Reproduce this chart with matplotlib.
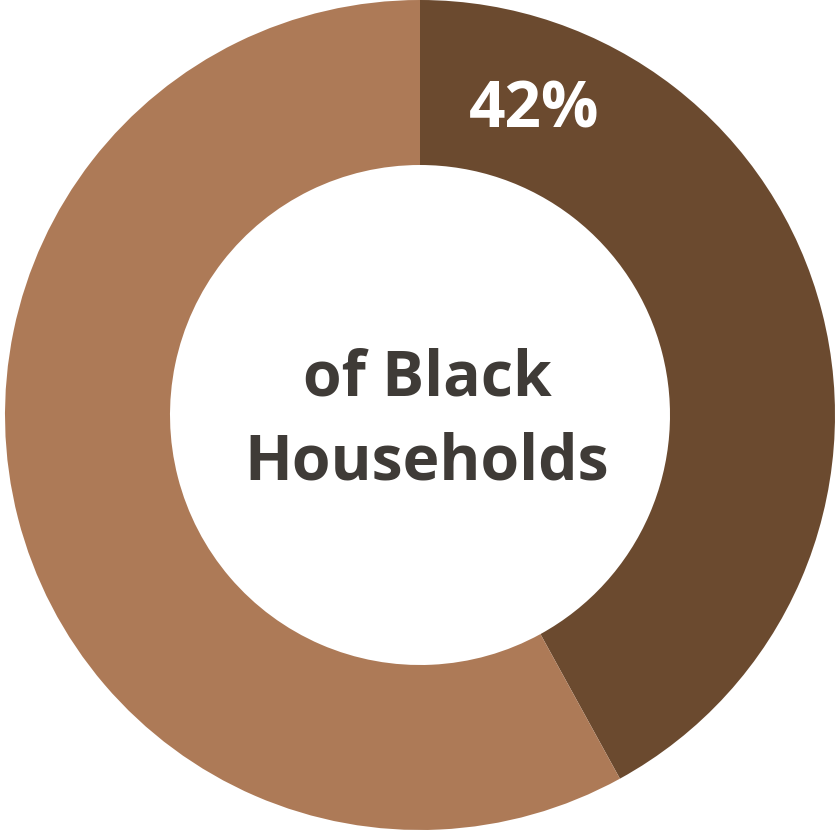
import matplotlib.pyplot as plt

# share of households
labels = ['Black Households', 'Other']
shares = [42, 58]
colors = ['#6B4A2F', '#AD7A57']
pct_text = '42%'
center_text = 'of Black\nHouseholds'

W, H = 839, 830
fig = plt.figure(figsize=(W / 100, H / 100), dpi=100)
ax = fig.add_axes([0, 0, 1, 1])

cx, cy, r = 420, 415, 415
ax.pie(shares, colors=colors, startangle=90, counterclock=False,
       center=(cx, cy), radius=r,
       wedgeprops=dict(width=165, edgecolor='none', antialiased=True))
ax.set_xlim(0, W)
ax.set_ylim(0, H)
ax.axis('off')

ax.text(534, H - 111, pct_text, color='white', fontsize=46, fontweight='bold',
        family='Open Sans', ha='center', va='center')
ax.text(427, H - 421, center_text, color='#3F3B37', fontsize=45, fontweight='bold',
        family='Open Sans', ha='center', va='center', linespacing=1.45)

fig.savefig('out.png', dpi=100, facecolor='white')
